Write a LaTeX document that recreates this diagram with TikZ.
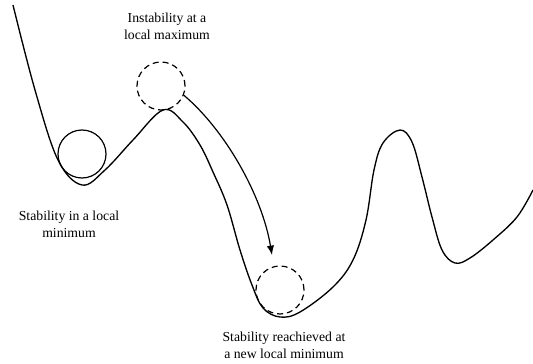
\documentclass[tikz,border=0pt]{standalone}
\usepackage{fontspec}
\setmainfont{Liberation Serif}
\usetikzlibrary{arrows.meta}
\usetikzlibrary{positioning}

\begin{document}
\begin{tikzpicture}[
      x = 0.75pt, y = -0.75pt,
      >={Latex[length=7pt, width=5.5pt]},
      ball/.style = {
        circle, draw = black, line width = 0.9pt,
        minimum size = 36pt, inner sep = 0pt
      },
      ghost/.style = { dash pattern = on 4.5pt off 3pt },
      caption/.style = {
        align = center, inner sep = 1pt,
        font = \rmfamily\fontsize{10.3}{12.75}\selectfont
      },
    ]
    \useasboundingbox (0,0) rectangle (533,364);

    % energy landscape
    \draw[line width = 1pt] plot[smooth, tension = 0.6] coordinates {
      (13,5) (35,90) (58,160) (82,185) (105,170) (133,140) (163,110)
      (183,122) (200,145) (213,172) (227,205) (240,250) (252,285)
      (263,308) (280,317) (300,312) (333,287) (353,260) (366,220)
      (374,170) (383,143) (400,130) (412,142) (422,177) (432,217)
      (442,250) (455,263) (470,258) (493,240) (517,217) (533,190)
    };

    \node[ball] (ballmin) at (82,154) {};
    \node[ball, ghost] (ballmax) at (161,86) {};
    \node[ball, ghost] (ballnew) at (280,290) {};
    \coordinate (tip) at (272,255);

    \draw[->, line width = 0.9pt] (ballmax.-22) .. controls (225,130) and (262,195) .. (tip);

    \node[caption] (lblmax) at (167,26) {Instability at a\\local maximum};
    \node[caption] (lblmin) at (69,224) {Stability in a local\\minimum};
    \node[caption] (lblnew) at (284,345) {Stability reachieved at\\a new local minimum};
  \end{tikzpicture}
\end{document}
